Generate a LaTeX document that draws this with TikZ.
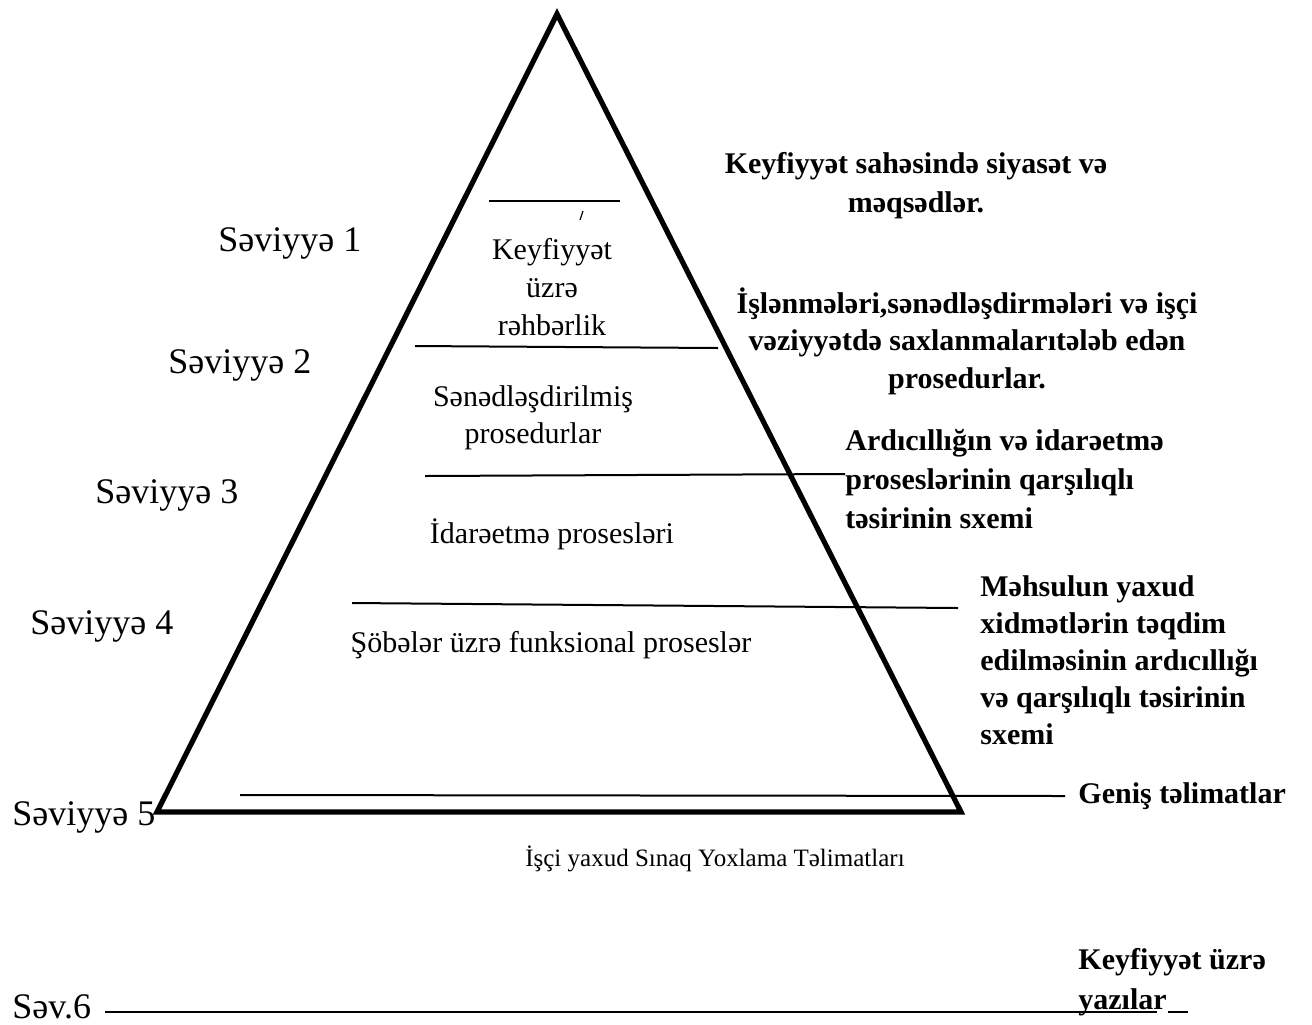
\documentclass[tikz,border=0pt]{standalone}
\usepackage{fontspec}
\setmainfont{LiberationSerif}[Extension=.ttf, UprightFont=*-Regular, BoldFont=*-Bold, ItalicFont=*-Italic, BoldItalicFont=*-BoldItalic]

\begin{document}
\begin{tikzpicture}[
  x=0.5pt, y=-0.5pt,
  edge/.style={line width=2.6pt, line join=miter},
  divider/.style={line width=1pt},
  levelname/.style={anchor=base west, inner sep=0pt, font=\fontsize{18}{22}\selectfont},
  inside/.style={inner sep=0pt, align=center, font=\fontsize{15}{19}\selectfont},
  note/.style={inner sep=0pt, font=\bfseries\fontsize{15}{19.5}\selectfont}
]
\useasboundingbox (0,0) rectangle (1312,1024);

% pyramid
\coordinate (apex) at (557,14);
\coordinate (bl) at (157,812);
\coordinate (br) at (961,812);
\draw[edge] (apex) -- (bl) -- (br) -- cycle;

% dividers between the levels
\draw[divider] (489,201) -- (620,201);
\draw[line width=0.6pt] (583,211) -- (580,220);
\draw[divider] (415,346) -- (718,348);
\draw[divider] (425,476) -- (845,474);
\draw[divider] (352,603) -- (958,608);
\draw[divider] (240,795) -- (1065,796);

% level names
\node[levelname] (lev1) at (218,251) {Səviyyə 1};
\node[levelname] (lev2) at (168,373) {Səviyyə 2};
\node[levelname] (lev3) at (95,503) {Səviyyə 3};
\node[levelname] (lev4) at (30,634) {Səviyyə 4};
\node[levelname] (lev5) at (12,825) {Səviyyə 5};
\node[levelname] (lev6) at (12,1018) {Səv.6};
\draw[divider] (105,1012) -- (1157,1012);
\draw[divider] (1168,1012) -- (1188,1012);

% inside the pyramid
\node[inside, anchor=north] (lead) at (552,238) {Keyfiyyət\\üzrə\\rəhbərlik};
\node[inside, anchor=north, font=\fontsize{15}{18.5}\selectfont] (docs) at (533,385) {Sənədləşdirilmiş\\prosedurlar};
\node[inside, anchor=base] (mgmt) at (552,543) {İdarəetmə prosesləri};
\node[inside, anchor=base] (func) at (551,652) {Şöbələr üzrə funksional proseslər};
\node[inside, anchor=base, font=\fontsize{12.5}{15}\selectfont] (work) at (715,866) {İşçi yaxud Sınaq Yoxlama Təlimatları};

% notes on the right
\node[note, align=center, anchor=north] (policy) at (916,152) {Keyfiyyət sahəsində siyasət və\\məqsədlər.};
\node[note, align=center, anchor=north, font=\bfseries\fontsize{15}{18.75}\selectfont] (docproc) at (967,287) {İşlənmələri,sənədləşdirmələri və işçi\\vəziyyətdə saxlanmalarıtələb edən\\prosedurlar.};
\node[note, align=left, anchor=north west] (seqmgmt) at (845,429) {Ardıcıllığın və idarəetmə\\proseslərinin qarşılıqlı\\təsirinin sxemi};
\node[note, align=left, anchor=north west, font=\bfseries\fontsize{15}{18.5}\selectfont] (seqprod) at (980,575) {Məhsulun yaxud\\xidmətlərin təqdim\\edilməsinin ardıcıllığı\\və qarşılıqlı təsirinin\\sxemi};
\node[note, anchor=base west] (wide) at (1078,803) {Geniş təlimatlar};
\node[note, align=left, anchor=north west, font=\bfseries\fontsize{15}{20}\selectfont] (records) at (1078,948) {Keyfiyyət üzrə\\yazılar};
\end{tikzpicture}
\end{document}
